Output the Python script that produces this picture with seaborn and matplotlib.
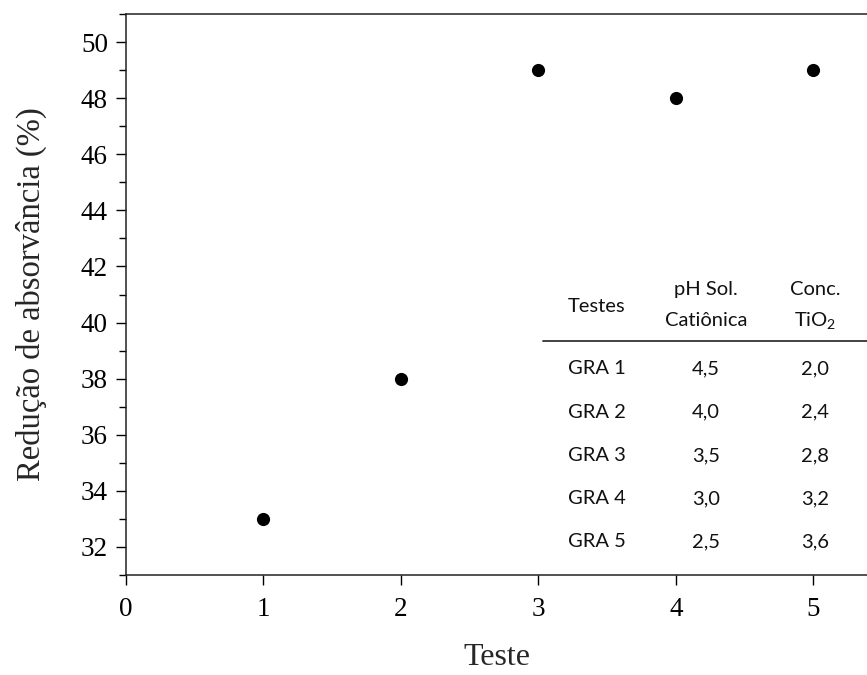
import seaborn as sns
import matplotlib.pyplot as plt
import pandas as pd
from matplotlib.lines import Line2D
from matplotlib.ticker import MultipleLocator

# dados do gráfico
teste = [1, 2, 3, 4, 5]
reducao = [33, 38, 49, 48, 49]

# tabela interna
testes = ["GRA 1", "GRA 2", "GRA 3", "GRA 4", "GRA 5"]
ph_sol = ["4,5", "4,0", "3,5", "3,0", "2,5"]
conc_tio2 = ["2,0", "2,4", "2,8", "3,2", "3,6"]

df = pd.DataFrame({"Teste": teste, "Reducao": reducao})

sns.set_style("ticks")
plt.rcParams["font.family"] = ["Liberation Serif", "DejaVu Serif"]

fig = plt.figure(figsize=(8.67, 6.75), dpi=100)
ax = fig.add_axes([126 / 867, 1 - 575 / 675, 1 - 126 / 867, (575 - 14) / 675])

sns.scatterplot(data=df, x="Teste", y="Reducao", ax=ax, color="black",
                s=90, marker="o", edgecolor="black", linewidth=0)

ax.set_xlim(0, 5.39)
ax.set_ylim(31, 51)
ax.xaxis.set_major_locator(MultipleLocator(1))
ax.yaxis.set_major_locator(MultipleLocator(2))
ax.yaxis.set_minor_locator(MultipleLocator(1))
ax.tick_params(axis="both", which="major", direction="out", length=7, width=1,
               labelsize=19.5, color="black", labelcolor="black")
ax.tick_params(axis="x", which="major", pad=9)
ax.tick_params(axis="y", which="major", pad=6)
ax.tick_params(axis="y", which="minor", direction="out", length=5, width=1, color="black")
ax.tick_params(axis="x", which="minor", bottom=False)

ax.set_xlabel("Teste", fontsize=23, labelpad=15)
ax.set_ylabel("Redução de absorvância (%)", fontsize=23.5, labelpad=24)

for side in ["left", "bottom", "top"]:
    ax.spines[side].set_color("#222222")
    ax.spines[side].set_linewidth(1.1)
ax.spines["right"].set_visible(False)

# tabela
tfont = ["Lato", "DejaVu Sans"]
fs = 14.5
tc = "#111111"
col_x = [597 / 867, 706 / 867, 815 / 867]

def fy(py):
    return 1 - py / 675

fig.text(col_x[0], fy(307), "Testes", ha="center", va="center", fontsize=fs, family=tfont, color=tc)
fig.text(col_x[1], fy(290), "pH Sol.", ha="center", va="center", fontsize=fs, family=tfont, color=tc)
fig.text(col_x[1], fy(321), "Catiônica", ha="center", va="center", fontsize=fs, family=tfont, color=tc)
fig.text(col_x[2], fy(290), "Conc.", ha="center", va="center", fontsize=fs, family=tfont, color=tc)
fig.text(col_x[2], fy(321), r"TiO$\mathregular{_2}$", ha="center", va="center", fontsize=fs, family=tfont, color=tc)

fig.add_artist(Line2D([543 / 867, 1.0], [fy(341), fy(341)], color="#333333", linewidth=1.3))

for i in range(len(testes)):
    y = fy(369 + 43.2 * i)
    fig.text(col_x[0], y, testes[i], ha="center", va="center", fontsize=fs, family=tfont, color=tc)
    fig.text(col_x[1], y, ph_sol[i], ha="center", va="center", fontsize=fs, family=tfont, color=tc)
    fig.text(col_x[2], y, conc_tio2[i], ha="center", va="center", fontsize=fs, family=tfont, color=tc)

fig.savefig("out.png", dpi=100)
